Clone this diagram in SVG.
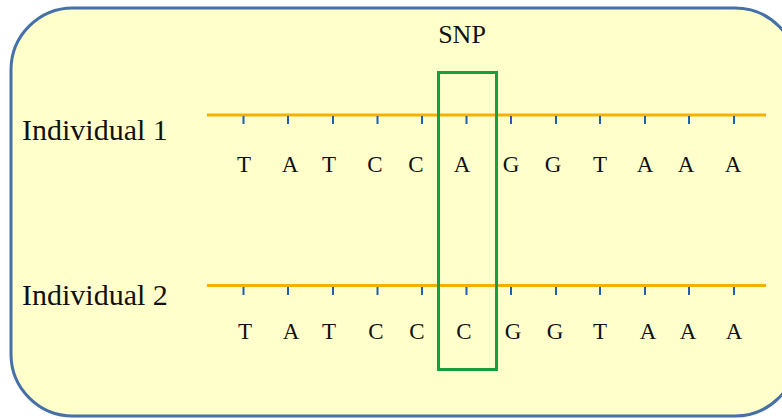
<svg xmlns="http://www.w3.org/2000/svg" width="782" height="419" viewBox="0 0 782 419">
<style>
text{font-family:'Liberation Serif','Times New Roman',serif;fill:#111;}
.base{font-size:23px;text-anchor:middle;}
.strand{stroke:#F2B100;stroke-width:3;fill:none;}
.tick{stroke:#1F5FAF;stroke-width:2;}
</style>
<g id="background">
<rect x="11" y="8" width="786" height="408" rx="62" ry="62" fill="#FFFFCC" stroke="#4671A8" stroke-width="3"/>
</g>
<g id="snp-label"><text x="462" y="43" font-size="26" text-anchor="middle" font-family="Liberation Serif, serif">SNP</text></g>
<g id="individual1">
<text x="22" y="140" font-size="30" font-family="Liberation Serif, serif">Individual 1</text>
<line class="strand" x1="207" y1="115" x2="766" y2="115"/>
<g class="tick">
<line x1="243.5" y1="116" x2="243.5" y2="124"/><line x1="288" y1="116" x2="288" y2="124"/><line x1="333" y1="116" x2="333" y2="124"/><line x1="377.5" y1="116" x2="377.5" y2="124"/><line x1="422" y1="116" x2="422" y2="124"/><line x1="466.5" y1="116" x2="466.5" y2="124"/><line x1="511" y1="116" x2="511" y2="124"/><line x1="556" y1="116" x2="556" y2="124"/><line x1="600" y1="116" x2="600" y2="124"/><line x1="645" y1="116" x2="645" y2="124"/><line x1="689" y1="116" x2="689" y2="124"/><line x1="734" y1="116" x2="734" y2="124"/>
</g>
<text class="base" x="244" y="172">T</text><text class="base" x="290" y="172">A</text><text class="base" x="329" y="172">T</text><text class="base" x="375" y="172">C</text><text class="base" x="416" y="172">C</text><text class="base" x="462" y="172">A</text><text class="base" x="511" y="172">G</text><text class="base" x="553" y="172">G</text><text class="base" x="600" y="172">T</text><text class="base" x="645" y="172">A</text><text class="base" x="686" y="172">A</text><text class="base" x="733" y="172">A</text>
</g>
<g id="individual2">
<text x="22" y="305" font-size="30" font-family="Liberation Serif, serif">Individual 2</text>
<line class="strand" x1="207" y1="285.5" x2="766" y2="285.5"/>
<g class="tick">
<line x1="243.5" y1="287" x2="243.5" y2="295"/><line x1="288" y1="287" x2="288" y2="295"/><line x1="333" y1="287" x2="333" y2="295"/><line x1="377.5" y1="287" x2="377.5" y2="295"/><line x1="422" y1="287" x2="422" y2="295"/><line x1="466.5" y1="287" x2="466.5" y2="295"/><line x1="511" y1="287" x2="511" y2="295"/><line x1="556" y1="287" x2="556" y2="295"/><line x1="600" y1="287" x2="600" y2="295"/><line x1="645" y1="287" x2="645" y2="295"/><line x1="689" y1="287" x2="689" y2="295"/><line x1="734" y1="287" x2="734" y2="295"/>
</g>
<text class="base" x="245" y="339">T</text><text class="base" x="291" y="339">A</text><text class="base" x="329" y="339">T</text><text class="base" x="376" y="339">C</text><text class="base" x="417" y="339">C</text><text class="base" x="464" y="339">C</text><text class="base" x="513" y="339">G</text><text class="base" x="555" y="339">G</text><text class="base" x="600" y="339">T</text><text class="base" x="648" y="339">A</text><text class="base" x="688" y="339">A</text><text class="base" x="734" y="339">A</text>
</g>
<g id="snp-box">
<rect x="438.5" y="72.5" width="58" height="297" fill="none" stroke="#16A03C" stroke-width="3"/>
</g>
</svg>
